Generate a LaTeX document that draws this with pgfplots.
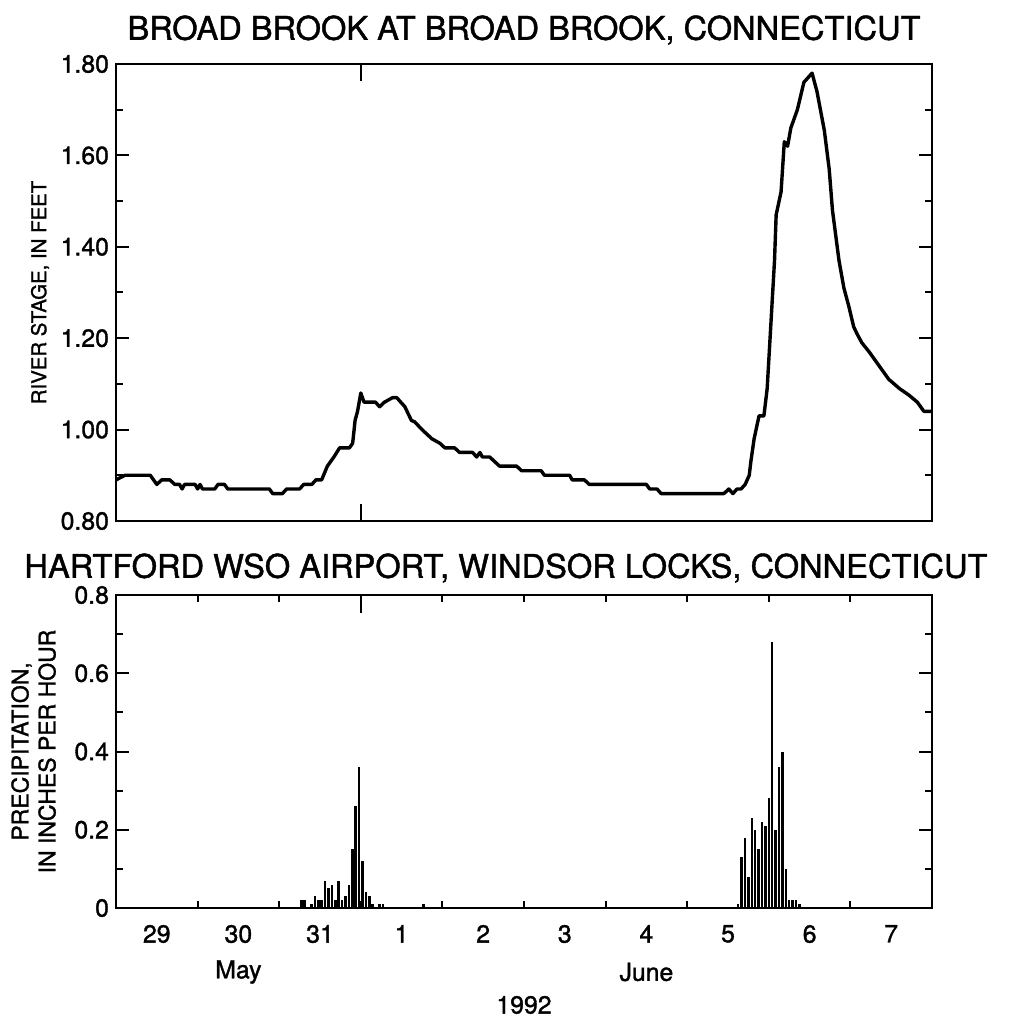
\documentclass[border=0pt]{standalone}
\usepackage{fontspec}
\setmainfont{TeX Gyre Heros}[FakeBold=1.3]
\usepackage{pgfplots}
\pgfplotsset{compat=1.18}

\pgfplotsset{
  hydro/.style={
    scale only axis, clip=false,
    tick align=inside,
    major tick length=6.5pt, minor tick length=3.3pt,
    every tick/.style={black, line width=1pt},
    axis line style={line width=1.1pt},
    ticklabel style={font=\fontsize{12.4}{14}\selectfont},
    /pgf/number format/assume math mode=true,
    label style={font=\fontsize{11.5}{13.5}\selectfont},
    title style={font=\fontsize{16.3}{19}\selectfont},
  }
}

\pgfplotstableread{
d v
0.00 0.89
0.11 0.90
0.42 0.90
0.50 0.88
0.56 0.89
0.66 0.89
0.72 0.88
0.78 0.88
0.81 0.87
0.84 0.88
0.97 0.88
1.00 0.87
1.03 0.88
1.06 0.87
1.21 0.87
1.25 0.88
1.33 0.88
1.37 0.87
1.88 0.87
1.92 0.86
2.04 0.86
2.09 0.87
2.25 0.87
2.30 0.88
2.40 0.88
2.45 0.89
2.52 0.89
2.59 0.92
2.67 0.94
2.74 0.96
2.86 0.96
2.90 0.97
2.93 1.02
2.96 1.04
3.00 1.08
3.04 1.06
3.18 1.06
3.23 1.05
3.29 1.06
3.39 1.07
3.44 1.07
3.54 1.05
3.62 1.02
3.66 1.017
3.75 1.00
3.78 0.995
3.87 0.98
3.97 0.97
4.03 0.96
4.15 0.96
4.21 0.95
4.37 0.95
4.42 0.94
4.46 0.95
4.49 0.94
4.58 0.94
4.64 0.93
4.70 0.92
4.91 0.92
4.97 0.91
5.21 0.91
5.25 0.90
5.56 0.90
5.59 0.89
5.74 0.89
5.80 0.88
6.50 0.88
6.54 0.87
6.63 0.87
6.68 0.86
7.45 0.86
7.51 0.87
7.56 0.86
7.61 0.87
7.66 0.87
7.71 0.88
7.76 0.90
7.78 0.93
7.82 0.98
7.88 1.03
7.94 1.03
7.98 1.09
8.07 1.37
8.09 1.47
8.15 1.52
8.19 1.63
8.23 1.62
8.27 1.66
8.35 1.70
8.43 1.76
8.53 1.78
8.59 1.74
8.68 1.655
8.74 1.57
8.78 1.48
8.86 1.37
8.92 1.31
8.98 1.27
9.04 1.225
9.08 1.21
9.14 1.19
9.23 1.17
9.35 1.14
9.47 1.11
9.60 1.09
9.72 1.075
9.82 1.06
9.90 1.04
9.99 1.04
}\stage

\pgfplotstableread{
h p
54.5 0.02
55.5 0.02
57.5 0.01
58.5 0.03
59.5 0.02
60.5 0.02
61.5 0.07
62.5 0.05
63.5 0.06
64.5 0.02
65.5 0.07
66.5 0.02
67.5 0.03
68.5 0.06
69.5 0.15
70.5 0.26
71.5 0.36
72.5 0.12
73.5 0.04
74.5 0.03
75.5 0.01
77.5 0.01
78.5 0.01
90.5 0.01
183 0.01
184 0.13
185 0.18
186 0.08
187 0.23
188 0.20
189 0.15
190 0.22
191 0.21
192 0.28
193 0.68
194 0.20
195 0.36
196 0.40
197 0.10
198 0.02
199 0.02
200 0.02
201 0.01
}\precip

\begin{document}
\begin{tikzpicture}
\useasboundingbox (0,0) rectangle (506.5pt,-510pt);

\begin{axis}[hydro,
  at={(58pt,-32pt)}, anchor=north west,
  width=408pt, height=228.5pt,
  xmin=0, xmax=10, ymin=0.8, ymax=1.8,
  xtick=\empty, minor xtick={1,2,...,9},
  ytick={0.8,1.0,1.2,1.4,1.6,1.8},
  yticklabels={0.80,1.00,1.20,1.40,1.60,1.80},
  minor ytick={0.9,1.1,1.3,1.5,1.7},
  ylabel={RIVER STAGE, IN FEET},
  ylabel style={at={(axis description cs:-0.093,0.5)}, anchor=center, font=\fontsize{10.2}{12}\selectfont},
  title={BROAD BROOK AT BROAD BROOK, CONNECTICUT},
  title style={at={(axis description cs:0.5,1)}, anchor=center, yshift=11pt},
]
\addplot[black, line width=1.7pt, line join=round] table[x=d, y=v] {\stage};
\draw[line width=1pt] (axis cs:3,0.8) -- ++(0pt,8.5pt);
\draw[line width=1pt] (axis cs:3,1.8) -- ++(0pt,-8.5pt);
\end{axis}

\begin{axis}[hydro,
  at={(58pt,-297.5pt)}, anchor=north west,
  width=408pt, height=156.5pt,
  xmin=0, xmax=240, ymin=0, ymax=0.8,
  xtick={12,36,...,228},
  xticklabels={29,30,31,1,2,3,4,5,6,7},
  xticklabel style={yshift=-5pt},
  minor xtick={24,48,...,216},
  major x tick style={draw=none},
  ytick={0,0.2,0.4,0.6,0.8},
  yticklabels={0,0.2,0.4,0.6,0.8},
  minor ytick={0.1,0.3,0.5,0.7},
  ylabel={PRECIPITATION,\\IN INCHES PER HOUR},
  ylabel style={at={(axis description cs:-0.101,0.5)}, anchor=center, align=center},
  title={HARTFORD WSO AIRPORT, WINDSOR LOCKS, CONNECTICUT},
  title style={at={(axis description cs:0.5,1)}, anchor=center, yshift=7.5pt, xshift=-9pt},
]
\addplot[ycomb, black, line width=1.25pt] table[x=h, y=p] {\precip};
\draw[line width=1pt] (axis cs:72,0.8) -- ++(0pt,-9pt);
\node[font=\fontsize{12.4}{14}\selectfont] at (axis cs:36,0) [yshift=-32pt] {May};
\node[font=\fontsize{12.4}{14}\selectfont] at (axis cs:156,0) [yshift=-32pt] {June};
\node[font=\fontsize{12.4}{14}\selectfont] at (rel axis cs:0.5,0) [yshift=-48.5pt] {1992};
\end{axis}
\end{tikzpicture}
\end{document}
